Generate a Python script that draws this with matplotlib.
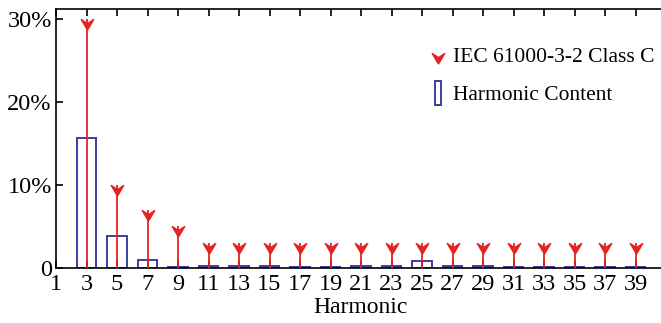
import numpy as np
import matplotlib.pyplot as plt
from matplotlib.path import Path
from matplotlib.patches import Rectangle
from matplotlib.lines import Line2D

# Гармоники и значения (в %)
harmonics = list(range(3, 40, 2))
iec_limit = [30, 10, 7, 5] + [3] * 15
harm_content = [15.6, 3.8, 1.0, 0.1, 0.3, 0.3, 0.3, 0.1, 0.1, 0.2,
                0.3, 0.8, 0.3, 0.3, 0.1, 0.1, 0.1, 0.1, 0.1]
xtick_labels = [str(h) for h in range(1, 40, 2)]
ytick_vals = [0, 10, 20, 30]
ytick_labels = ['0', '10%', '20%', '30%']

red = '#e32322'
blue = '#3a3f9e'

plt.rcParams['font.family'] = ['Liberation Serif', 'DejaVu Serif']

# маркер-"галочка", верх на точке данных
verts = [(-0.6, 0), (0, -0.4), (0.6, 0), (0.16, -0.75), (0, -1.0),
         (-0.16, -0.75), (-0.6, 0)]
codes = [Path.MOVETO] + [Path.LINETO] * 5 + [Path.CLOSEPOLY]
chevron = Path(verts, codes)

fig = plt.figure(figsize=(6.61, 3.23), dpi=100)
ax = fig.add_axes([56 / 661, 55 / 323, 610 / 661, 259 / 323])

ax.bar(harmonics, harm_content, width=1.25, facecolor='none',
       edgecolor=blue, linewidth=1.4, zorder=2)
ax.vlines(harmonics, 0, iec_limit, color=red, linewidth=1.3, zorder=3)
ax.plot(harmonics, iec_limit, linestyle='none', marker=chevron,
        markersize=15, color=red, zorder=4)

ax.set_xlim(1, 41)
ax.set_ylim(0, 31.2)
ax.set_xticks(range(1, 40, 2))
ax.set_xticklabels(xtick_labels)
ax.set_yticks(ytick_vals)
ax.set_yticklabels(ytick_labels)
ax.tick_params(direction='in', top=True, right=False, length=5, width=1.2,
               labelsize=17.5, pad=3)
ax.tick_params(axis='x', pad=4)
for s in ax.spines.values():
    s.set_linewidth(1.2)
ax.set_xlabel('Harmonic', fontsize=17, labelpad=2)

h1 = Line2D([], [], linestyle='none', marker=chevron, markersize=15, color=red)
h2 = Rectangle((0, 0), 1, 1, facecolor='none', edgecolor=blue, linewidth=1.4)
leg = ax.legend([h1, h2], ['IEC 61000-3-2 Class C', 'Harmonic Content'],
                loc='upper right', bbox_to_anchor=(0.995, 0.90), frameon=False,
                fontsize=15.5, handlelength=0.3, handleheight=1.3,
                handletextpad=0.55, labelspacing=0.65, borderaxespad=0)

fig.savefig('out.png', dpi=100)
